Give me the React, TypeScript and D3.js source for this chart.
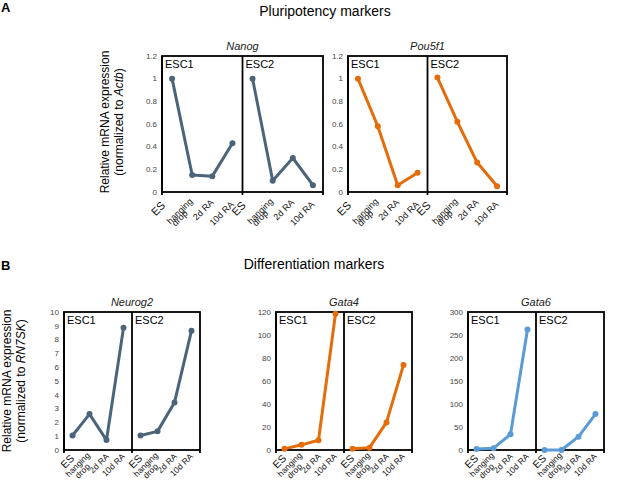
import * as d3 from 'd3';

const FONT = '"Liberation Sans", Arial, Helvetica, sans-serif';

const SLATE = '#4b6479';
const ORANGE = '#e46c0a';
const SKY = '#5b9bd5';

// x categories and the two cell lines
const stages = ['ES', 'hanging drop', '2d RA', '10d RA'];
const cellLines = ['ESC1', 'ESC2'];

// values
const nanogESC1 = [1.0, 0.15, 0.14, 0.43];
const nanogESC2 = [1.0, 0.1, 0.3, 0.06];
const pou5f1ESC1 = [1.0, 0.58, 0.06, 0.17];
const pou5f1ESC2 = [1.01, 0.62, 0.26, 0.05];
const neurog2ESC1 = [1.05, 2.6, 0.72, 8.85];
const neurog2ESC2 = [1.05, 1.35, 3.45, 8.65];
const gata4ESC1 = [1, 4.5, 8.5, 118.5];
const gata4ESC2 = [1, 2, 24, 74];
const gata6ESC1 = [2, 4, 34, 262];
const gata6ESC2 = [0, 0, 29, 78];

// y tick labels
const pluriTicks = ['0', '0.2', '0.4', '0.6', '0.8', '1', '1.2'];
const neurog2Ticks = ['0', '1', '2', '3', '4', '5', '6', '7', '8', '9', '10'];
const gata4Ticks = ['0', '20', '40', '60', '80', '100', '120'];
const gata6Ticks = ['0', '50', '100', '150', '200', '250', '300'];

interface LabelStyle {
  offs: Record<string, [number, number]>;
  size: number;
  esSize: number;
}

// label anchor offsets (end of rotated text) relative to category centre / axis
const LABELS_A: LabelStyle = {
  offs: { ES: [-6, 14], hanging: [1, 10], drop: [-4, 22], '2d RA': [2, 11], '10d RA': [2, 13] },
  size: 9,
  esSize: 11,
};
const LABELS_B: LabelStyle = {
  offs: { ES: [2.5, 9], hanging: [1, 6], drop: [1, 17], '2d RA': [3, 7], '10d RA': [2, 7] },
  size: 8.5,
  esSize: 10.5,
};

interface PanelProps {
  box: [number, number, number, number];
  gene: string;
  ticks: string[];
  series: number[][];
  color: string;
  labels: LabelStyle;
}

function Panel({ box, gene, ticks, series, color, labels }: PanelProps) {
  const [x0, y0, x1, y1] = box;
  const tv = ticks.map(Number);
  const y = d3.scaleLinear().domain([tv[0], tv[tv.length - 1]]).range([y1, y0]);
  const outer = d3.scaleBand().domain(cellLines).range([x0, x1]);
  const inner = d3.scaleBand().domain(stages).range([0, outer.bandwidth()]);
  const cx = (cl: string, s: string) => outer(cl)! + inner(s)! + inner.bandwidth() / 2;

  const label = (key: string, text: string, c: number, size: number) => {
    const [dx, dy] = labels.offs[key];
    const px = c + dx, py = y1 + dy;
    return (
      <g key={key} transform={`translate(${px},${py}) rotate(-45)`}>
        <text textAnchor="end" fontSize={size} fill="#111">{text}</text>
      </g>
    );
  };

  return (
    <g fontFamily={FONT}>
      <text x={(x0 + x1) / 2} y={y0 - 6} textAnchor="middle" fontSize={11}
        fontStyle="italic" fill="#222">{gene}</text>
      {ticks.map((t, i) => (
        <text key={t} x={x0 - 5} y={y(tv[i])} dy="0.35em" textAnchor="end"
          fontSize={8} fill="#444">{t}</text>
      ))}
      <rect x={x0} y={y0} width={x1 - x0} height={y1 - y0} fill="none"
        stroke="#000" strokeWidth={1.8} />
      {cellLines.map(cl => (
        <line key={cl} x1={outer(cl)!} x2={outer(cl)!} y1={y0} y2={y1 + 3}
          stroke="#000" strokeWidth={1.8} />
      ))}
      <line x1={x1} x2={x1} y1={y1} y2={y1 + 3} stroke="#000" strokeWidth={1.8} />
      {cellLines.map((cl, k) => {
        const vals = series[k];
        const path = d3.line<number>()
          .x((_, i) => cx(cl, stages[i]))
          .y(d => y(d))(vals);
        return (
          <g key={cl}>
            <text x={outer(cl)! + 3} y={y0 + 12} fontSize={11} fill="#000">{cl}</text>
            <path d={path ?? ''} fill="none" stroke={color} strokeWidth={3}
              strokeLinejoin="round" />
            {vals.map((v, i) => (
              <circle key={i} cx={cx(cl, stages[i])} cy={y(v)} r={3} fill={color} />
            ))}
            {label('ES', 'ES', cx(cl, 'ES'), labels.esSize)}
            {label('hanging', 'hanging', cx(cl, 'hanging drop'), labels.size)}
            {label('drop', 'drop', cx(cl, 'hanging drop'), labels.size)}
            {label('2d RA', '2d RA', cx(cl, '2d RA'), labels.size)}
            {label('10d RA', '10d RA', cx(cl, '10d RA'), labels.size)}
          </g>
        );
      })}
    </g>
  );
}

export default function App() {
  return (
    <svg width={617} height={488} style={{ position: 'absolute', left: 0, top: 0 }}
      fontFamily={FONT}>
      <rect width={617} height={488} fill="#fff" />
      <text x={1} y={12} fontSize={13} fontWeight="bold">A</text>
      <text x={325} y={16} textAnchor="middle" fontSize={14}>Pluripotency markers</text>
      <text x={1} y={270} fontSize={13} fontWeight="bold">B</text>
      <text x={314} y={269} textAnchor="middle" fontSize={14}>Differentiation markers</text>

      <g transform="translate(109,122) rotate(-90)">
        <text textAnchor="middle" fontSize={12}>Relative mRNA expression</text>
        <text y={14} textAnchor="middle" fontSize={12}>
          (normalized to <tspan fontStyle="italic">Actb</tspan>)
        </text>
      </g>
      <g transform="translate(11,381) rotate(-90)">
        <text textAnchor="middle" fontSize={12}>Relative mRNA expression</text>
        <text y={14} textAnchor="middle" fontSize={12}>
          (normalized to <tspan fontStyle="italic">RN7SK</tspan>)
        </text>
      </g>

      <Panel box={[162, 56, 323, 192]} gene="Nanog" ticks={pluriTicks}
        series={[nanogESC1, nanogESC2]} color={SLATE} labels={LABELS_A} />
      <Panel box={[348, 56, 507, 192]} gene="Pou5f1" ticks={pluriTicks}
        series={[pou5f1ESC1, pou5f1ESC2]} color={ORANGE} labels={LABELS_A} />
      <Panel box={[64, 312, 200, 450]} gene="Neurog2" ticks={neurog2Ticks}
        series={[neurog2ESC1, neurog2ESC2]} color={SLATE} labels={LABELS_B} />
      <Panel box={[276, 312, 412, 450]} gene="Gata4" ticks={gata4Ticks}
        series={[gata4ESC1, gata4ESC2]} color={ORANGE} labels={LABELS_B} />
      <Panel box={[468, 312, 604, 450]} gene="Gata6" ticks={gata6Ticks}
        series={[gata6ESC1, gata6ESC2]} color={SKY} labels={LABELS_B} />
    </svg>
  );
}
